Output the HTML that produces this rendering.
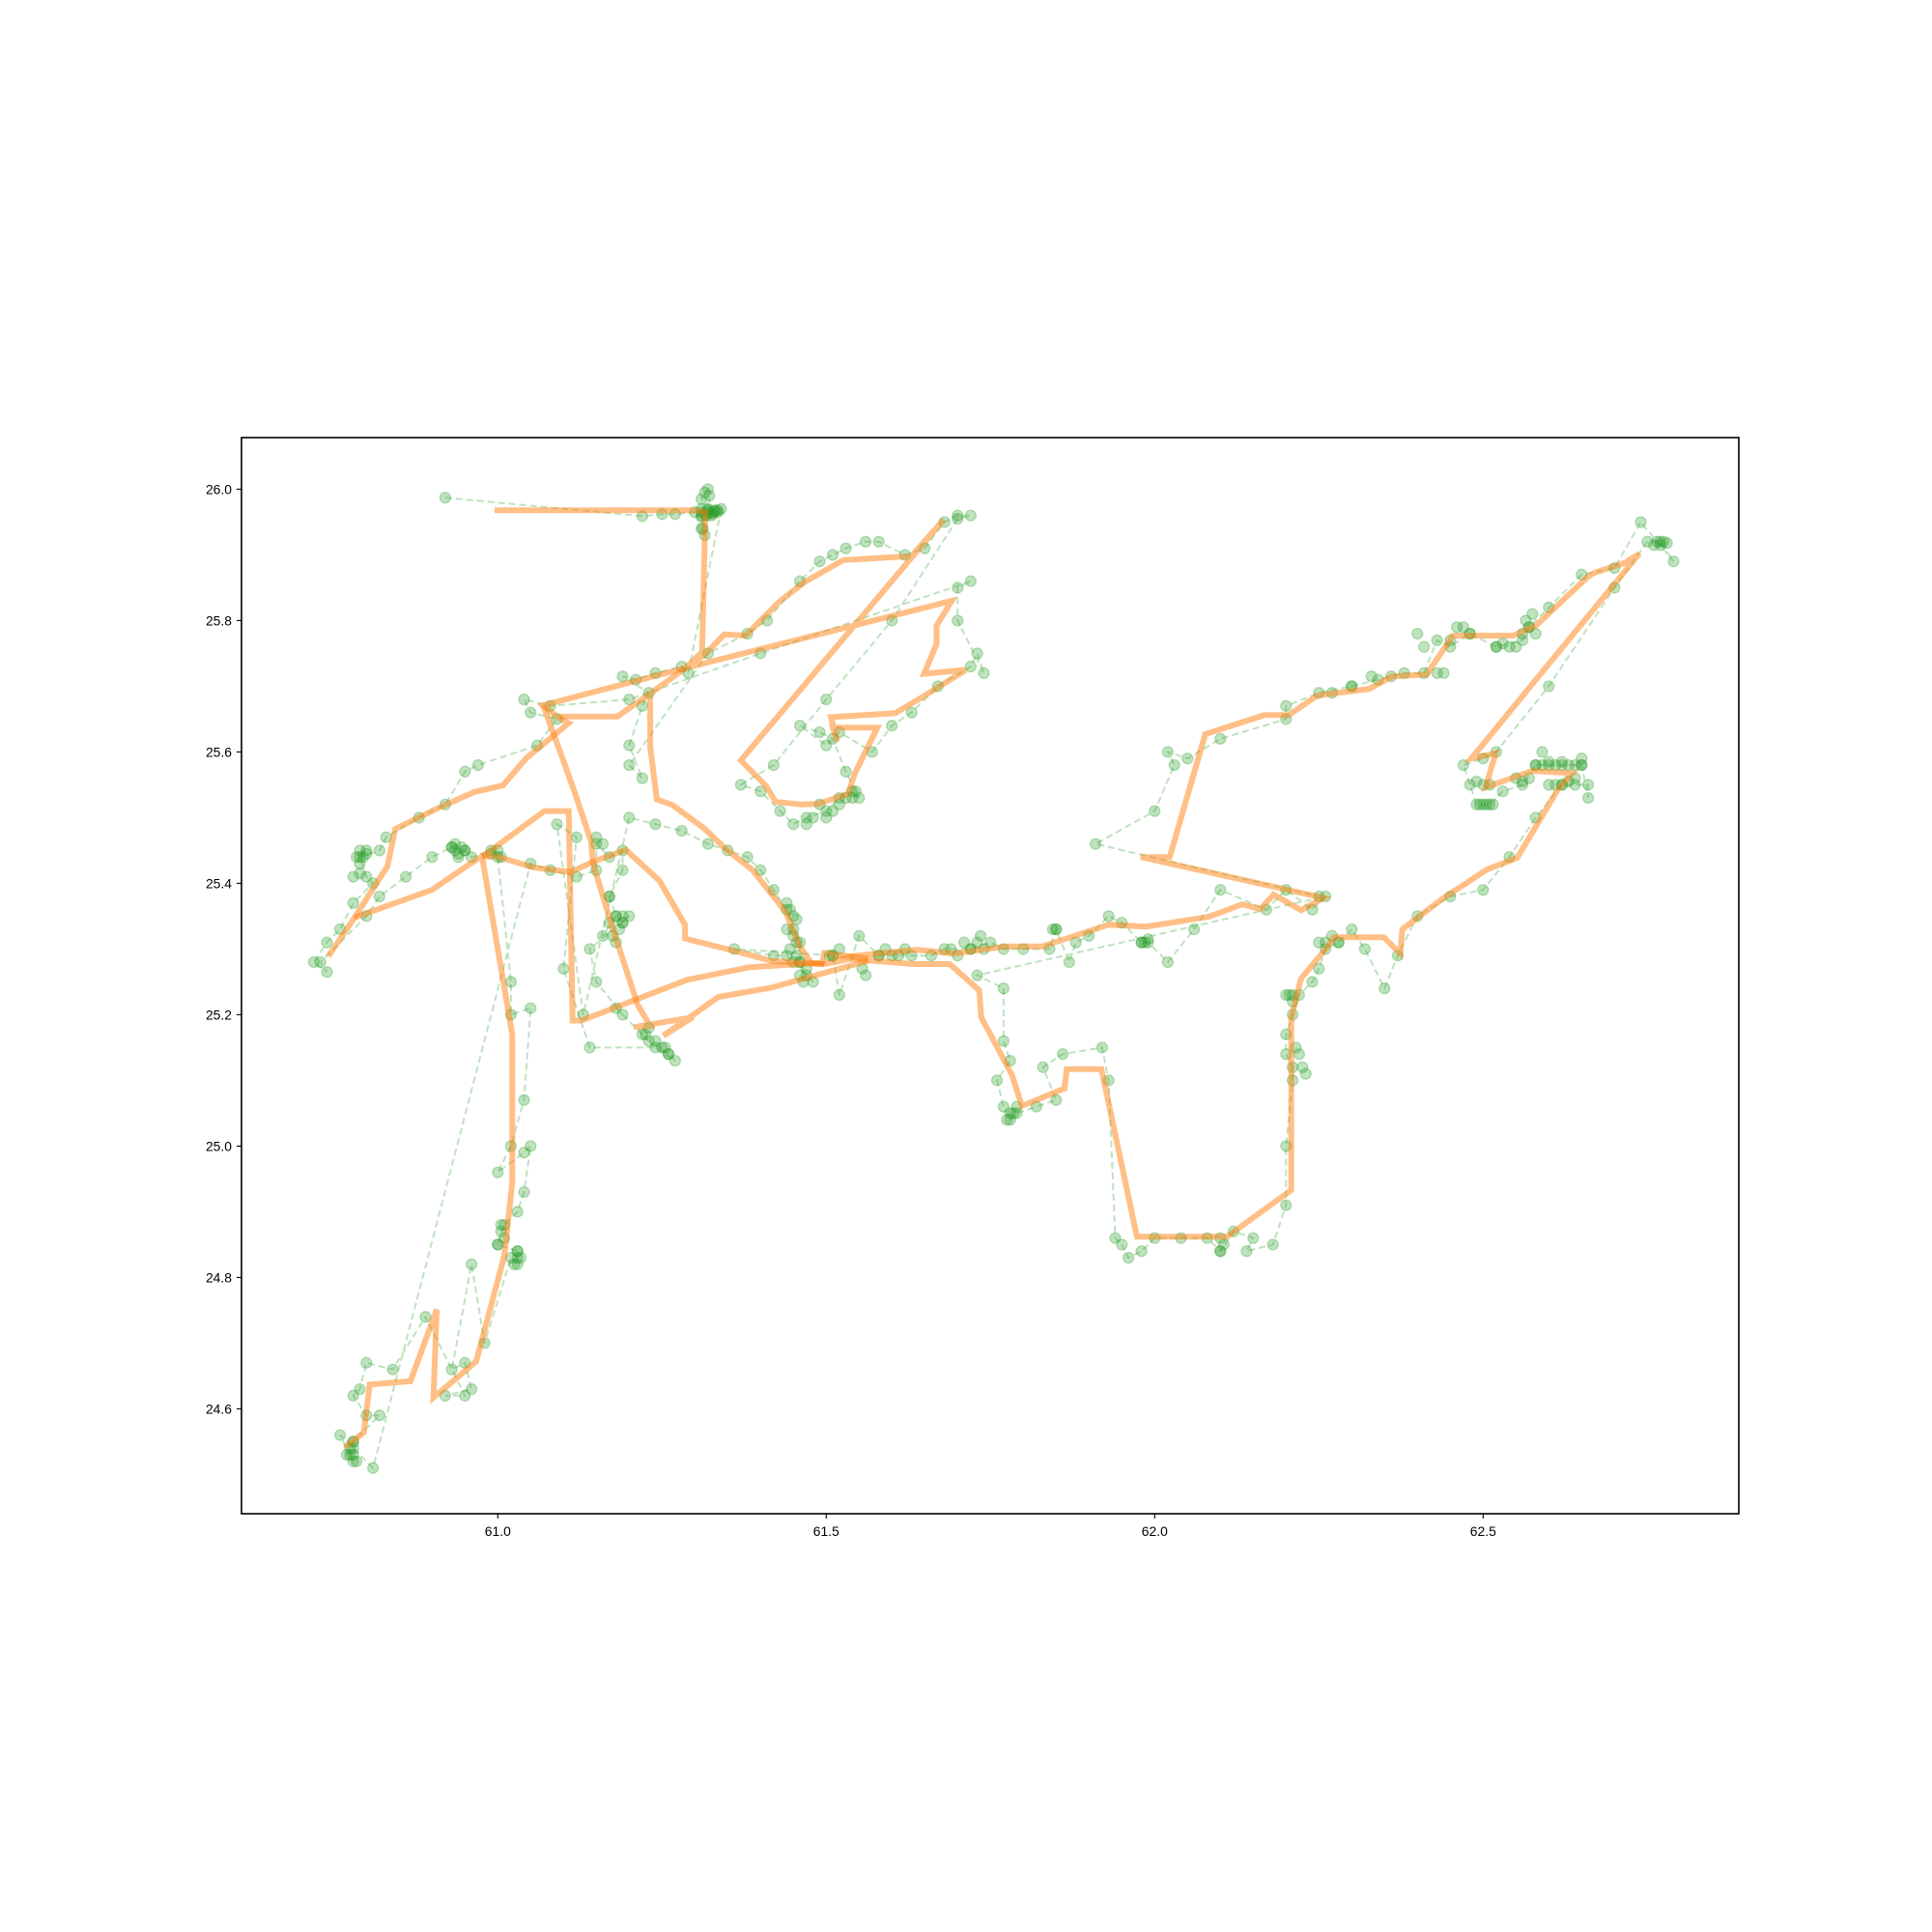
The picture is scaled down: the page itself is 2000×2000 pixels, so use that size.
<!DOCTYPE html>
<html><head><meta charset="utf-8"><style>
html,body{margin:0;padding:0;background:#fff;}
svg{display:block;font-family:"Liberation Sans","DejaVu Sans",sans-serif;}
</style></head><body>
<svg id="chart" width="2000" height="2000" viewBox="0 0 2000 2000" xmlns="http://www.w3.org/2000/svg">
<rect x="0" y="0" width="2000" height="2000" fill="#fff"/>
<defs><clipPath id="plotclip"><rect x="250" y="453" width="1550" height="1114"/></clipPath></defs>
<g id="green-layer" clip-path="url(#plotclip)"></g>
<g id="orange-layer" clip-path="url(#plotclip)"></g>
<rect x="250" y="453" width="1550" height="1114" fill="none" stroke="#000" stroke-width="1.6"/>
<g id="axes"></g>
</svg>
<script>
const xTicks = [61.0, 61.5, 62.0, 62.5];
const xTickLabels = ["61.0", "61.5", "62.0", "62.5"];
const yTicks = [24.6, 24.8, 25.0, 25.2, 25.4, 25.6, 25.8, 26.0];
const yTickLabels = ["24.6", "24.8", "25.0", "25.2", "25.4", "25.6", "25.8", "26.0"];

const smoothSegA = [[60.995,25.968],[61.298,25.968],[61.316,25.965],[61.311,25.752],[61.285,25.727],[61.316,25.749],[61.345,25.779],[61.377,25.777],[61.429,25.829],[61.466,25.858],[61.526,25.892],[61.613,25.897],[61.629,25.897],[61.679,25.954],[61.370,25.587],[61.408,25.549],[61.423,25.524],[61.463,25.520],[61.488,25.521],[61.533,25.536],[61.544,25.568],[61.578,25.637],[61.510,25.637],[61.517,25.616],[61.507,25.653],[61.605,25.659],[61.644,25.682],[61.713,25.725],[61.649,25.719],[61.668,25.764],[61.668,25.792],[61.691,25.830],[61.283,25.727],[61.069,25.671],[61.094,25.651],[61.108,25.644],[61.043,25.590],[61.008,25.549],[60.964,25.539],[60.904,25.512],[60.844,25.483],[60.832,25.426],[60.782,25.348],[60.742,25.289]];
const smoothSegB = [[60.782,25.348],[60.900,25.390],[60.954,25.427],[60.976,25.441],[61.022,25.170],[61.022,24.945],[61.010,24.833],[60.967,24.672],[60.902,24.617],[60.907,24.751],[60.867,24.642],[60.805,24.637],[60.796,24.564],[60.767,24.541]];
const smoothSegC = [[60.976,25.441],[60.998,25.441],[61.055,25.424],[61.111,25.417],[61.145,25.433],[61.195,25.451],[61.246,25.404],[61.285,25.337],[61.285,25.316],[61.376,25.293],[61.416,25.282],[61.497,25.277]];
const smoothSegD = [[60.977,25.441],[61.071,25.510],[61.108,25.510],[61.114,25.191],[61.127,25.191],[61.288,25.253],[61.382,25.272],[61.494,25.279],[61.497,25.294],[61.564,25.285]];
const smoothSegE = [[61.069,25.671],[61.098,25.592],[61.119,25.533],[61.142,25.464],[61.145,25.430],[61.173,25.338],[61.213,25.215],[61.232,25.183],[61.207,25.181],[61.297,25.196],[61.252,25.168],[61.336,25.227],[61.416,25.241],[61.564,25.282]];
const smoothSegF = [[61.094,25.654],[61.182,25.654],[61.232,25.689],[61.285,25.727],[61.232,25.689],[61.232,25.608],[61.242,25.528],[61.266,25.519],[61.314,25.484],[61.345,25.454],[61.388,25.420],[61.438,25.357],[61.460,25.303],[61.478,25.278],[61.497,25.277]];
const smoothSegG = [[61.497,25.277],[61.537,25.289],[61.638,25.299],[61.694,25.293],[61.773,25.304],[61.829,25.304],[61.875,25.319],[61.930,25.337],[61.986,25.334],[62.082,25.349],[62.133,25.368],[62.161,25.361],[62.181,25.383],[62.223,25.359],[62.257,25.378],[61.979,25.440],[62.023,25.440],[62.077,25.627],[62.167,25.656],[62.204,25.656],[62.248,25.686],[62.327,25.696],[62.361,25.715],[62.414,25.718],[62.454,25.777],[62.546,25.777],[62.580,25.792],[62.660,25.867],[62.670,25.873],[62.716,25.888],[62.738,25.902],[62.482,25.590],[62.519,25.598],[62.504,25.546],[62.574,25.571],[62.636,25.568],[62.614,25.543],[62.552,25.439],[62.506,25.421],[62.439,25.377],[62.377,25.330],[62.374,25.293],[62.349,25.318],[62.273,25.318],[62.266,25.307],[62.223,25.255],[62.208,25.196],[62.208,24.933],[62.110,24.862],[61.973,24.862],[61.919,25.117],[61.866,25.117],[61.863,25.088],[61.798,25.061],[61.783,25.108],[61.736,25.196],[61.733,25.237],[61.688,25.277],[61.632,25.277],[61.537,25.285],[61.497,25.277]];
const smoothSegments = [smoothSegA, smoothSegB, smoothSegC, smoothSegD, smoothSegE, smoothSegF, smoothSegG];

const rawLon = [60.92,61.22,61.25,61.27,61.30,61.31,61.32,61.33,61.31,61.315,61.32,61.325,61.31,61.315,61.31,61.335,61.34,
61.29,61.28,61.24,61.21,61.19,61.23,61.22,61.2,61.22,61.2,
61.32,61.38,61.41,61.46,61.49,61.51,61.53,61.56,61.58,61.62,61.65,61.68,61.70,61.72,61.7,
61.60,61.50,61.42,61.37,61.40,61.43,61.45,61.47,61.5,61.52,61.54,61.55,61.53,61.51,61.49,61.46,61.5,61.52,61.57,61.6,61.63,61.67,61.72,61.73,61.74,61.7,61.7,61.72,
61.4,61.2,61.08,61.04,61.05,61.09,
61.06,60.97,60.95,60.92,60.88,60.83,60.82,60.79,60.8,60.81,60.78,60.76,60.74,60.72,60.74,60.73,
60.8,60.82,60.86,60.9,60.93,60.95,60.96,60.99,61.0,
61.02,61.02,61.05,61.04,61.02,61.0,61.04,61.05,61.04,61.03,61.01,61.0,61.03,61.03,61.02,60.98,60.96,60.93,60.95,60.96,60.92,60.95,60.89,60.84,60.80,60.79,60.78,60.8,60.82,60.78,60.77,60.78,60.76,60.81,
61.05,61.08,61.12,61.15,61.15,61.17,61.19,61.19,61.17,61.18,61.16,61.19,61.2,61.14,61.15,61.19,61.18,61.22,61.23,61.26,61.27,61.24,61.14,61.1,61.12,61.09,61.13,
61.2,61.24,61.28,61.32,61.35,61.38,61.4,61.42,61.44,61.45,61.46,61.46,61.47,61.48,61.45,61.44,61.42,61.36,
61.51,61.52,61.55,61.58,61.63,61.66,61.68,61.72,61.75,61.77,61.8,61.84,61.85,61.87,61.88,61.9,61.93,61.95,61.98,61.99,62.02,62.06,62.1,62.17,62.2,62.24,62.26,
61.73,61.77,61.77,61.78,61.76,61.77,61.78,61.79,61.82,61.85,61.83,61.86,61.92,61.93,61.94,61.95,61.96,61.98,62.0,62.04,62.08,62.1,62.12,62.15,62.14,62.18,62.2,62.2,62.21,62.21,62.2,62.2,62.21,62.22,62.24,62.25,62.26,62.28,62.3,62.32,62.35,62.37,62.4,62.45,62.5,62.54,62.58,62.62,62.64,62.66,62.66,62.65,62.62,62.6,62.58,62.56,62.53,62.51,62.49,62.48,62.47,62.5,62.52,
62.6,62.7,62.75,62.77,62.79,62.74,62.7,62.65,62.6,62.57,62.56,62.52,62.48,62.45,62.43,62.41,62.38,62.34,62.3,62.25,62.2,62.2,62.1,62.05,62.02,62.03,62.0,61.91,62.25];
const rawLat = [25.987,25.959,25.962,25.962,25.965,25.97,25.965,25.968,25.985,25.995,26.0,25.96,25.94,25.93,25.96,25.965,25.97,
25.72,25.73,25.72,25.71,25.715,25.69,25.67,25.61,25.56,25.58,
25.75,25.78,25.80,25.86,25.89,25.9,25.91,25.92,25.92,25.9,25.91,25.95,25.96,25.96,25.955,
25.80,25.68,25.58,25.55,25.54,25.51,25.49,25.5,25.51,25.53,25.54,25.53,25.57,25.62,25.63,25.64,25.61,25.63,25.6,25.64,25.66,25.7,25.73,25.75,25.72,25.8,25.85,25.86,
25.75,25.68,25.67,25.68,25.66,25.65,
25.61,25.58,25.57,25.52,25.5,25.47,25.45,25.44,25.41,25.4,25.37,25.33,25.31,25.28,25.265,25.28,
25.35,25.38,25.41,25.44,25.455,25.45,25.44,25.45,25.44,
25.25,25.2,25.21,25.07,25.0,24.96,24.99,25.0,24.93,24.9,24.88,24.85,24.84,24.82,24.83,24.70,24.82,24.66,24.67,24.63,24.62,24.62,24.74,24.66,24.67,24.63,24.62,24.59,24.59,24.55,24.53,24.52,24.56,24.51,
25.43,25.42,25.41,25.42,25.46,25.44,25.45,25.42,25.38,25.35,25.32,25.34,25.35,25.3,25.25,25.2,25.21,25.17,25.16,25.14,25.13,25.15,25.15,25.27,25.47,25.49,25.2,
25.5,25.49,25.48,25.46,25.45,25.44,25.42,25.39,25.36,25.33,25.31,25.28,25.26,25.25,25.28,25.29,25.29,25.3,
25.29,25.23,25.32,25.29,25.29,25.29,25.3,25.30,25.31,25.3,25.3,25.3,25.33,25.28,25.31,25.32,25.35,25.34,25.31,25.31,25.28,25.33,25.39,25.36,25.39,25.36,25.38,
25.26,25.24,25.16,25.13,25.1,25.06,25.04,25.05,25.06,25.07,25.12,25.14,25.15,25.1,24.86,24.85,24.83,24.84,24.86,24.86,24.86,24.84,24.87,24.86,24.84,24.85,24.91,25.0,25.1,25.12,25.14,25.17,25.2,25.23,25.25,25.27,25.3,25.31,25.33,25.3,25.24,25.29,25.35,25.38,25.39,25.44,25.5,25.55,25.55,25.55,25.53,25.58,25.58,25.58,25.58,25.55,25.54,25.52,25.52,25.55,25.58,25.59,25.6,
25.7,25.85,25.92,25.92,25.89,25.95,25.88,25.87,25.82,25.79,25.77,25.76,25.78,25.76,25.77,25.72,25.72,25.71,25.7,25.69,25.67,25.65,25.62,25.59,25.6,25.58,25.51,25.46,25.38];

// dense dwell clusters (markers only)
const dwellLon = [61.31,61.315,61.32,61.325,61.33,61.335,61.32,61.31,61.318,61.328,61.312,61.322,
60.79,60.795,60.80,60.785,60.79,60.80,60.78,60.79,
60.93,60.935,60.94,60.945,60.95,60.94,60.935,60.99,61.0,61.005,
61.44,61.445,61.45,61.455,61.44,61.45,61.445,61.455,61.46,61.46,61.47,61.465,61.455,
61.17,61.18,61.185,61.19,61.175,61.18,61.19,61.17,61.15,61.16,
61.23,61.225,61.24,61.25,61.26,61.255,
61.005,61.01,61.0,61.005,61.03,61.03,61.025,61.035,
60.775,60.78,60.78,60.785,60.775,60.78,
61.78,61.785,61.775,61.79,61.845,61.85,
61.98,61.985,61.99,62.1,62.105,62.1,
62.2,62.205,62.21,62.21,62.215,62.22,62.225,62.23,62.25,62.26,62.27,62.28,
62.55,62.56,62.57,62.58,62.59,62.6,62.61,62.62,62.63,62.64,62.65,62.6,62.61,62.62,62.63,62.64,62.65,62.59,
62.49,62.5,62.51,62.5,62.495,62.505,62.515,
62.52,62.53,62.54,62.55,62.56,62.57,62.575,62.565,62.58,
62.76,62.765,62.77,62.775,62.78,
62.4,62.41,62.43,62.44,62.45,62.46,62.47,62.48,62.36,62.33,62.3,62.27,
61.58,61.59,61.60,61.61,61.62,61.69,61.70,61.71,61.72,61.73,61.74,61.735,61.555,61.56,61.52,61.51,61.505,
61.49,61.5,61.51,61.52,61.53,61.54,61.545,61.47,61.48];
const dwellLat = [25.965,25.962,25.968,25.964,25.966,25.968,25.97,25.958,25.96,25.963,25.94,25.99,
25.45,25.44,25.445,25.44,25.43,25.45,25.41,25.415,
25.455,25.45,25.445,25.455,25.45,25.44,25.46,25.445,25.45,25.44,
25.37,25.36,25.35,25.345,25.33,25.32,25.3,25.29,25.28,25.26,25.27,25.25,25.31,
25.34,25.35,25.33,25.34,25.32,25.31,25.35,25.38,25.47,25.46,
25.18,25.17,25.16,25.15,25.14,25.15,
24.87,24.86,24.85,24.88,24.84,24.83,24.82,24.83,
24.54,24.53,24.55,24.52,24.53,24.54,
25.05,25.05,25.04,25.06,25.33,25.33,
25.31,25.31,25.315,24.84,24.85,24.86,
25.23,25.23,25.23,25.22,25.15,25.14,25.12,25.11,25.31,25.31,25.32,25.31,
25.56,25.555,25.56,25.58,25.58,25.585,25.58,25.585,25.58,25.58,25.58,25.55,25.55,25.55,25.555,25.56,25.59,25.6,
25.555,25.55,25.55,25.52,25.52,25.52,25.52,
25.76,25.765,25.76,25.76,25.78,25.79,25.81,25.8,25.78,
25.915,25.92,25.915,25.92,25.918,
25.78,25.76,25.72,25.72,25.77,25.79,25.79,25.78,25.715,25.715,25.7,25.69,
25.29,25.3,25.29,25.29,25.3,25.3,25.29,25.31,25.3,25.31,25.3,25.32,25.27,25.26,25.3,25.29,25.29,
25.52,25.5,25.51,25.52,25.53,25.53,25.54,25.49,25.5];

const NS = "http://www.w3.org/2000/svg";
function sx(v){ return 515.3 + (v - 61) * 680; }
function sy(v){ return 506.4 + (26 - v) * 680; }

const green = document.getElementById('green-layer');
const orange = document.getElementById('orange-layer');
const axes = document.getElementById('axes');

function drawRaw(lons, lats, name, withLine){
  if (withLine) {
    let gd = "";
    for (let i = 0; i < lons.length; i++) {
      gd += (i ? "L" : "M") + sx(lons[i]).toFixed(1) + "," + sy(lats[i]).toFixed(1);
    }
    const gline = document.createElementNS(NS, 'path');
    gline.setAttribute('d', gd);
    gline.setAttribute('fill', 'none');
    gline.setAttribute('stroke', '#2ca02c');
    gline.setAttribute('stroke-opacity', '0.3');
    gline.setAttribute('stroke-width', '2');
    gline.setAttribute('stroke-dasharray', '7,4');
    
    
    green.appendChild(gline);
  }
  for (let i = 0; i < lons.length; i++) {
    const c = document.createElementNS(NS, 'circle');
    c.setAttribute('cx', sx(lons[i]).toFixed(1));
    c.setAttribute('cy', sy(lats[i]).toFixed(1));
    c.setAttribute('r', '5.5');
    c.setAttribute('fill', '#2ca02c');
    c.setAttribute('fill-opacity', '0.3');
    c.setAttribute('stroke', '#2ca02c');
    c.setAttribute('stroke-opacity', '0.3');
    c.setAttribute('stroke-width', '1.3');
    
    
    green.appendChild(c);
  }
}
drawRaw(rawLon, rawLat, 'raw-track', true);
drawRaw(dwellLon, dwellLat, 'dwell-track', false);

smoothSegments.forEach(function(seg){
  let d = "";
  seg.forEach(function(p, i){ d += (i ? "L" : "M") + sx(p[0]).toFixed(1) + "," + sy(p[1]).toFixed(1); });
  const pth = document.createElementNS(NS, 'path');
  pth.setAttribute('d', d);
  pth.setAttribute('fill', 'none');
  pth.setAttribute('stroke', '#ff7f0e');
  pth.setAttribute('stroke-opacity', '0.5');
  pth.setAttribute('stroke-width', '6');
  pth.setAttribute('stroke-linejoin', 'miter');
  
  
  orange.appendChild(pth);
});

xTicks.forEach(function(v, i){
  const x = sx(v);
  const t = document.createElementNS(NS, 'line');
  t.setAttribute('x1', x); t.setAttribute('x2', x);
  t.setAttribute('y1', 1567); t.setAttribute('y2', 1572);
  t.setAttribute('stroke', '#000'); t.setAttribute('stroke-width', '1.1');
  
  
  axes.appendChild(t);
  const l = document.createElementNS(NS, 'text');
  l.setAttribute('x', x); l.setAttribute('y', 1590);
  l.setAttribute('text-anchor', 'middle');
  l.setAttribute('font-size', '13.9');
  l.setAttribute('fill', '#000');
  l.textContent = xTickLabels[i];
  
  
  axes.appendChild(l);
});
yTicks.forEach(function(v, i){
  const y = sy(v);
  const t = document.createElementNS(NS, 'line');
  t.setAttribute('x1', 245); t.setAttribute('x2', 250);
  t.setAttribute('y1', y); t.setAttribute('y2', y);
  t.setAttribute('stroke', '#000'); t.setAttribute('stroke-width', '1.1');
  
  
  axes.appendChild(t);
  const l = document.createElementNS(NS, 'text');
  l.setAttribute('x', 240); l.setAttribute('y', y + 5);
  l.setAttribute('text-anchor', 'end');
  l.setAttribute('font-size', '13.9');
  l.setAttribute('fill', '#000');
  l.textContent = yTickLabels[i];
  
  
  axes.appendChild(l);
});
</script>
</body></html>
